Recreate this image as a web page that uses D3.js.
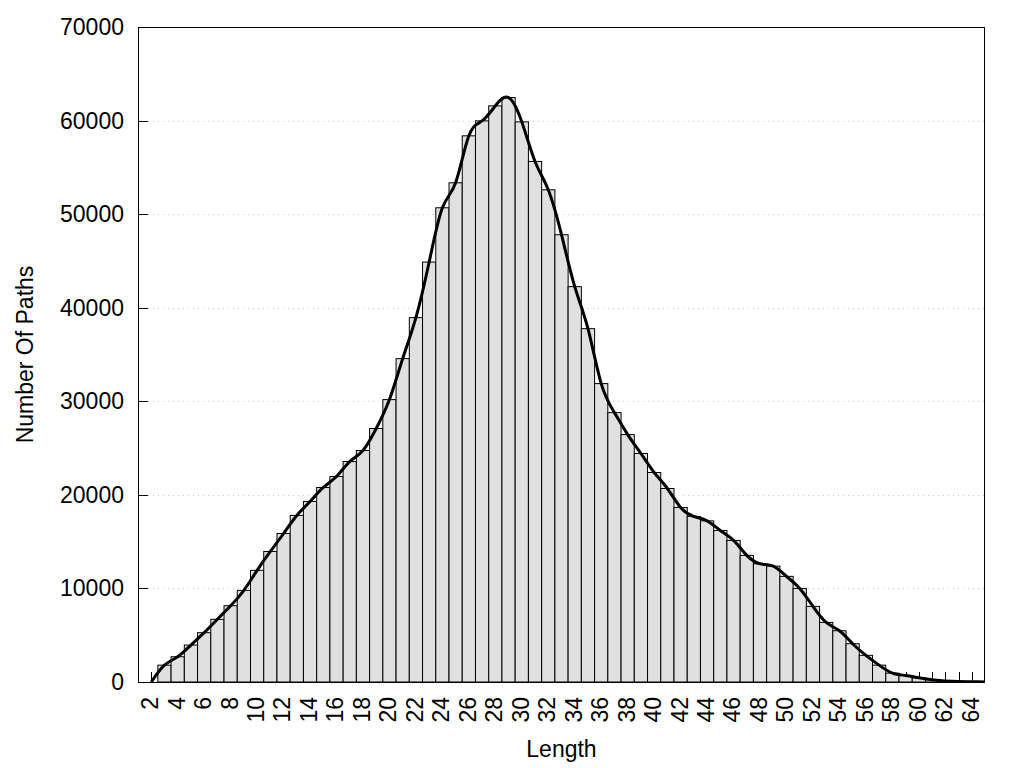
<!DOCTYPE html>
<html>
<head>
<meta charset="utf-8">
<script src="https://cdn.jsdelivr.net/npm/d3@7"></script>
<style>
  html, body { margin: 0; padding: 0; background: #fff; }
  svg { display: block; }
  text { font-family: "Liberation Sans", Arial, sans-serif; fill: #000; }
</style>
</head>
<body>
<svg id="chart" width="1024" height="768"></svg>
<script>
// ---- data ----
const lengths = d3.range(2, 66);
const pathCounts = [
  0, 1800, 2700, 3950, 5270, 6700, 8150, 9790, 11930, 13950,
  15870, 17800, 19290, 20790, 21960, 23560, 24740, 27090, 30180, 34560,
  38940, 44880, 50680, 53350, 58370, 59970, 61570, 62460, 59860, 55630,
  52600, 47800, 42250, 37760, 31890, 28790, 26440, 24420, 22390, 20680,
  18650, 17690, 17220, 16190, 15130, 13530, 12630, 12380, 11290, 10000,
  8080, 6370, 5480, 4090, 2850, 1800, 950, 700, 450, 250,
  120, 60, 30, 10
];
const yTickValues = [0, 10000, 20000, 30000, 40000, 50000, 60000, 70000];
const xTickLabels = d3.range(2, 65, 2);
const xTitle = "Length";
const yTitle = "Number Of Paths";

// ---- layout ----
const mLeft = 138, mRight = 985, mTop = 27, mBottom = 682;
const fontSize = 23;
const svg = d3.select("#chart");

const x = d3.scaleLinear().domain([1, 65]).range([mLeft, mRight]);
const y = d3.scaleLinear().domain([0, 70000]).range([mBottom, mTop]);
const bw = x(2) - x(1);

svg.append("defs").append("clipPath").attr("id", "plotclip")
  .append("rect").attr("x", mLeft).attr("y", mTop)
  .attr("width", mRight - mLeft).attr("height", mBottom - mTop);

// gridlines
svg.append("g").selectAll("line")
  .data(yTickValues.filter(v => v > 0 && v < 70000))
  .join("line")
  .attr("x1", mLeft + 10).attr("x2", mRight)
  .attr("y1", d => Math.round(y(d)) + 0.5).attr("y2", d => Math.round(y(d)) + 0.5)
  .attr("stroke", "#c8c8c8").attr("stroke-width", 1)
  .attr("stroke-dasharray", "1,4");

// x ticks (inward)
svg.append("g").selectAll("line")
  .data(d3.range(2, 65))
  .join("line")
  .attr("x1", d => Math.round(x(d)) + 0.5).attr("x2", d => Math.round(x(d)) + 0.5)
  .attr("y1", mBottom).attr("y2", mBottom - 10)
  .attr("stroke", "#000").attr("stroke-width", 1);

// bars
const data = lengths.map((l, i) => ({ l, v: pathCounts[i] }));
svg.append("g").attr("clip-path", "url(#plotclip)").selectAll("rect")
  .data(data)
  .join("rect")
  .attr("x", d => x(d.l) - bw / 2)
  .attr("width", bw)
  .attr("y", d => y(d.v))
  .attr("height", d => mBottom - y(d.v))
  .attr("fill", "#e0e0e0")
  .attr("stroke", "#000")
  .attr("stroke-width", 1);

// smooth curve
const line = d3.line().x(d => x(d.l)).y(d => y(d.v)).curve(d3.curveNatural);
svg.append("path").attr("clip-path", "url(#plotclip)")
  .datum(data)
  .attr("d", line)
  .attr("fill", "none")
  .attr("stroke", "#000")
  .attr("stroke-width", 3)
  .attr("stroke-linejoin", "round");

// border
svg.append("rect")
  .attr("x", mLeft + 0.5).attr("y", mTop + 0.5)
  .attr("width", mRight - mLeft - 1).attr("height", mBottom - mTop)
  .attr("fill", "none").attr("stroke", "#000").attr("stroke-width", 1);

// y ticks + labels
const yAxis = svg.append("g");
yAxis.selectAll("line")
  .data(yTickValues)
  .join("line")
  .attr("x1", mLeft).attr("x2", mLeft + 10)
  .attr("y1", d => Math.round(y(d)) + 0.5).attr("y2", d => Math.round(y(d)) + 0.5)
  .attr("stroke", "#000").attr("stroke-width", 1);
yAxis.selectAll("text")
  .data(yTickValues)
  .join("text")
  .attr("x", mLeft - 14)
  .attr("y", d => y(d))
  .attr("dy", "0.35em")
  .attr("text-anchor", "end")
  .attr("font-size", fontSize)
  .text(d => d);

// x labels (rotated)
svg.append("g").selectAll("text")
  .data(xTickLabels)
  .join("text")
  .attr("transform", d => `translate(${x(d)},697) rotate(-90)`)
  .attr("dy", "0.3em")
  .attr("text-anchor", "end")
  .attr("font-size", fontSize)
  .text(d => d);

// titles
svg.append("text")
  .attr("x", (mLeft + mRight) / 2).attr("y", 757)
  .attr("text-anchor", "middle").attr("font-size", fontSize)
  .text(xTitle);
svg.append("text")
  .attr("transform", `translate(33,${(mTop + mBottom) / 2}) rotate(-90)`)
  .attr("text-anchor", "middle").attr("font-size", fontSize)
  .text(yTitle);
</script>
</body>
</html>
